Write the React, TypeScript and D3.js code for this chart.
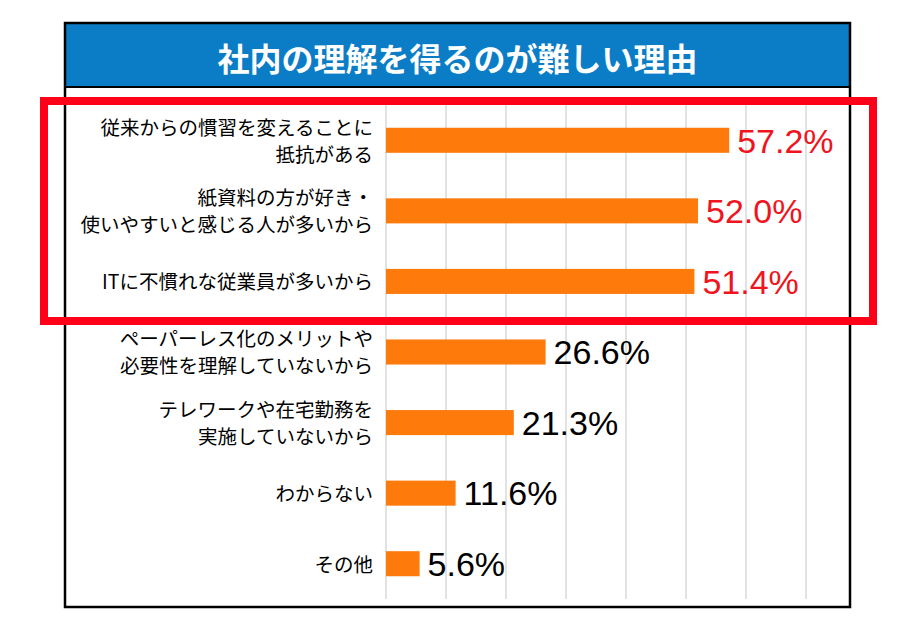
import React from "react";
import * as d3 from "d3";

const title = "社内の理解を得るのが難しい理由";
const categories: string[][] = [
  ["従来からの慣習を変えることに", "抵抗がある"],
  ["紙資料の方が好き・", "使いやすいと感じる人が多いから"],
  ["ITに不慣れな従業員が多いから"],
  ["ペーパーレス化のメリットや", "必要性を理解していないから"],
  ["テレワークや在宅勤務を", "実施していないから"],
  ["わからない"],
  ["その他"],
];
const values = [57.2, 52.0, 51.4, 26.6, 21.3, 11.6, 5.6];
const highlighted = [true, true, true, false, false, false, false];
const gridTicks = [0, 10, 20, 30, 40, 50, 60, 70];

export default function App() {
  const W = 906;
  const H = 642;
  const frame = { x0: 65, y0: 23, x1: 850, y1: 607 };
  const titleBottom = 87;
  const plotTop = 105;
  const plotBottom = 599;

  const x = d3.scaleLinear().domain([0, 80]).range([386, 866]);
  const y = d3
    .scaleBand<number>()
    .domain(d3.range(values.length))
    .range([plotTop, plotBottom])
    .paddingInner(0.645)
    .paddingOuter(0.3225);

  const jpFont = "'Noto Sans CJK JP', 'Noto Sans', sans-serif";
  const numFont = "'Liberation Sans', Arial, sans-serif";

  return (
    <svg
      width={W}
      height={H}
      style={{ position: "absolute", left: 0, top: 0, background: "#fff" }}
    >
      <rect x={frame.x0} y={frame.y0} width={frame.x1 - frame.x0} height={frame.y1 - frame.y0} fill="#fff" />
      <rect x={frame.x0} y={frame.y0} width={frame.x1 - frame.x0} height={titleBottom - frame.y0} fill="#0a7dc6" />
      <line x1={frame.x0} x2={frame.x1} y1={titleBottom} y2={titleBottom} stroke="#000" strokeWidth={2} />
      <text
        x={(frame.x0 + frame.x1) / 2}
        y={57}
        textAnchor="middle"
        dominantBaseline="central"
        fill="#fff"
        fontFamily={jpFont}
        fontWeight="bold"
        fontSize={32}
      >
        {title}
      </text>

      {gridTicks.map((t) => (
        <line
          key={t}
          x1={x(t)}
          x2={x(t)}
          y1={plotTop - 8}
          y2={plotBottom}
          stroke="#d9d9d9"
          strokeWidth={1.5}
        />
      ))}

      {values.map((v, i) => (
        <rect
          key={i}
          x={x(0)}
          y={y(i)!}
          width={x(v) - x(0)}
          height={y.bandwidth()}
          fill="#fe7a0b"
        />
      ))}

      {values.map((v, i) => (
        <text
          key={i}
          x={x(v) + 8}
          y={y(i)! + y.bandwidth() / 2}
          dy="0.36em"
          fill={highlighted[i] ? "#f0141e" : "#000"}
          fontFamily={numFont}
          fontSize={34}
        >
          {v.toFixed(1) + "%"}
        </text>
      ))}

      {categories.map((lines, i) => {
        const cy = y(i)! + y.bandwidth() / 2 + 1;
        const lh = 27;
        return (
          <text
            key={i}
            textAnchor="end"
            fontFamily={jpFont}
            fontSize={19.5}
            fill="#000"
          >
            {lines.map((ln, j) => (
              <tspan
                key={j}
                x={373}
                y={cy + (j - (lines.length - 1) / 2) * lh}
                dy="0.35em"
              >
                {ln}
              </tspan>
            ))}
          </text>
        );
      })}

      <rect
        x={frame.x0}
        y={frame.y0}
        width={frame.x1 - frame.x0}
        height={frame.y1 - frame.y0}
        fill="none"
        stroke="#000"
        strokeWidth={2.5}
      />

      <rect x={44} y={101} width={829} height={220} fill="none" stroke="#ff0019" strokeWidth={8} />
    </svg>
  );
}
